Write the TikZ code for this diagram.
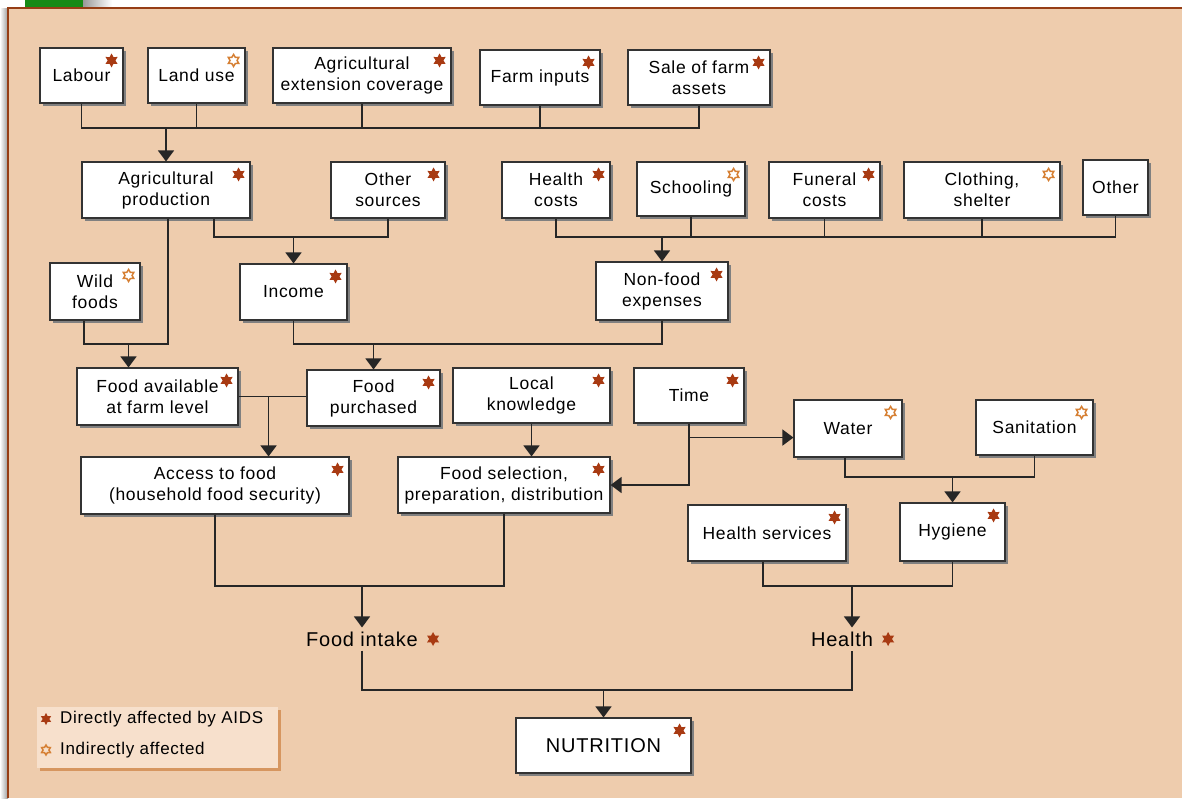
\documentclass[tikz,border=0pt]{standalone}
\usepackage{fontspec}
\setmainfont{Liberation Sans}[LetterSpace=4]
\usepackage{tikz}
\usetikzlibrary{arrows.meta}
\usetikzlibrary{shapes.geometric}
\usetikzlibrary{shadows}

\definecolor{panel}{RGB}{238,204,173}
\definecolor{paneledge}{RGB}{150,62,22}
\definecolor{stardark}{RGB}{168,58,18}
\definecolor{starlight}{RGB}{214,128,52}
\definecolor{legendfill}{RGB}{247,224,204}
\definecolor{legendshadow}{RGB}{214,150,96}
\definecolor{tabgreen}{RGB}{22,138,22}

\tikzset{
  box/.style={draw=black!80, line width=1.1pt, fill=white, align=center, inner sep=2pt,
    font=\fontsize{17.5}{21}\selectfont,
    drop shadow={shadow xshift=3pt, shadow yshift=-3pt, fill=black!50, opacity=1}},
  sz/.style 2 args={minimum width=#1pt, minimum height=#2pt},
  dmark/.style={star, star points=6, star point ratio=1.8, minimum size=14pt, inner sep=0pt, fill=stardark},
  imark/.style={star, star points=6, star point ratio=1.7, minimum size=12pt, inner sep=0pt, draw=starlight, line width=1.5pt},
  link/.style={line width=1.4pt, draw=black!85},
  arr/.style={-{Triangle[width=16pt,length=11pt]}},
  plain/.style={inner sep=4pt, font=\fontsize{20}{24}\selectfont},
}

\begin{document}
\begin{tikzpicture}[x=1pt, y=-1pt]
    \useasboundingbox (0,0) rectangle (1182,798);
    % page and panel
    \fill [white] (0,0) rectangle (1182,798);
    \shade [left color=white, right color=black!40] (0,8) rectangle (8,798);
    \fill [tabgreen] (25,0) rectangle (83,7);
    \shade [left color=black!40, right color=white] (83,0) rectangle (112,7);
    \fill [panel] (8,8) rectangle (1182,798);
    \draw [paneledge, line width=2pt] (8,798) -- (8,8) -- (1182,8);

    % top row
    \node [box, sz={83}{55}] (labour) at (81.5,75.5) {Labour};
    \node [box, sz={97}{55}] (landuse) at (196.5,75.5) {Land use};
    \node [box, sz={178}{55}] (extension) at (362,75.5) {Agricultural\\extension coverage};
    \node [box, sz={120}{55}] (inputs) at (540,77.5) {Farm inputs};
    \node [box, sz={142}{55}] (assets) at (699,77.5) {Sale of farm\\assets};

    % second row
    \node [box, sz={168}{56}] (agprod) at (166,190) {Agricultural\\production};
    \node [box, sz={114}{56}] (othersrc) at (388,190) {Other\\sources};
    \node [box, sz={108}{56}] (healthcost) at (556,190) {Health\\costs};
    \node [box, sz={108}{54}] (schooling) at (691,189) {Schooling};
    \node [box, sz={111}{56}] (funeral) at (824.5,190) {Funeral\\costs};
    \node [box, sz={156}{56}] (clothing) at (982,190) {Clothing,\\shelter};
    \node [box, sz={65}{55}] (other) at (1115.5,187.5) {Other};

    % third row
    \node [box, sz={90}{57}] (wild) at (95,291.5) {Wild\\foods};
    \node [box, sz={107}{56}] (income) at (293.5,292) {Income};
    \node [box, sz={132}{58}] (nonfood) at (662,291) {Non-food\\expenses};

    % fourth row
    \node [box, sz={161}{57}] (foodavail) at (157.5,396.5) {Food available\\at farm level};
    \node [box, sz={133}{56}] (purchased) at (373.5,398) {Food\\purchased};
    \node [box, sz={157}{55}] (knowledge) at (531.5,395.5) {Local\\knowledge};
    \node [box, sz={110}{55}] (time) at (689,395.5) {Time};
    \node [box, sz={108}{57}] (water) at (848,428.5) {Water};
    \node [box, sz={117}{55}] (sanitation) at (1034.5,427.5) {Sanitation};

    % fifth row
    \node [box, sz={268}{57}] (access) at (215,485.5) {Access to food\\(household food security)};
    \node [box, sz={212}{56}] (selection) at (504,485) {Food selection,\\preparation, distribution};
    \node [box, sz={158}{56}] (hservices) at (767,533) {Health services};
    \node [box, sz={105}{58}] (hygiene) at (952.5,532) {Hygiene};

    % outcomes
    \node [plain] (intake) at (362,639) {Food intake};
    \node [plain] (health) at (842,639) {Health};
    \node [box, sz={175}{55}, font=\fontsize{20}{24}\selectfont] (nutrition) at (603.5,745.5) {NUTRITION};

    % marks
    \foreach \n in {labour,extension,inputs,assets,agprod,othersrc,healthcost,funeral,
        income,nonfood,foodavail,purchased,knowledge,time,access,selection,hservices,hygiene,nutrition}
        \node [dmark] (\n-mark) at ([xshift=-12pt,yshift=-13pt]\n.north east) {};
    \foreach \n in {landuse,schooling,clothing,wild,water,sanitation}
        \node [imark] (\n-mark) at ([xshift=-12pt,yshift=-13pt]\n.north east) {};
    \node [dmark] (intake-mark) at ([xshift=11pt]intake.east) {};
    \node [dmark] (health-mark) at ([xshift=11pt]health.east) {};

    % connectors
    \coordinate (bus1) at (0,128);
    \coordinate (bus2) at (0,237);
    \coordinate (bus3) at (0,344);
    \coordinate (bus4) at (0,477);
    \coordinate (bus5) at (0,586);
    \coordinate (bus7) at (0,690);
    \coordinate (hx) at ([xshift=10pt]health.north);

    \draw [link] (labour.south) |- (assets.south |- bus1) -- (assets.south);
    \foreach \n in {landuse,extension,inputs}
        \draw [link] (\n.south) -- (\n.south |- bus1);
    \draw [link, arr] (agprod.north |- bus1) -- (agprod.north);

    \draw [link] ([xshift=48pt]agprod.south) |- (othersrc.south |- bus2) -- (othersrc.south);
    \draw [link, arr] (income.north |- bus2) -- (income.north);
    \draw [link] (healthcost.south) |- (other.south |- bus2) -- (other.south);
    \foreach \n in {schooling,funeral,clothing}
        \draw [link] (\n.south) -- (\n.south |- bus2);
    \draw [link, arr] (nonfood.north |- bus2) -- (nonfood.north);

    \draw [link] ([xshift=2pt]agprod.south) |- ([xshift=-11pt]wild.south |- bus3) -- ([xshift=-11pt]wild.south);
    \draw [link, arr] ([xshift=-29pt]foodavail.north |- bus3) -- ([xshift=-29pt]foodavail.north);
    \draw [link] (income.south) |- (nonfood.south |- bus3) -- (nonfood.south);
    \draw [link, arr] (purchased.north |- bus3) -- (purchased.north);

    \draw [link] (foodavail.east) -- (foodavail.east -| purchased.west);
    \draw [link, arr] ([xshift=30pt]foodavail.east) -- ([xshift=30pt]foodavail.east |- access.north);
    \draw [link, arr] (knowledge.south) -- (knowledge.south |- selection.north);

    \draw [link] (time.south) -- ++(0,14) coordinate (tj);
    \draw [link, arr] (tj) -- (tj -| water.west);
    \draw [link, arr] (tj) |- (selection.east);

    \draw [link] ([xshift=-3pt]water.south) |- (sanitation.south |- bus4) -- (sanitation.south);
    \draw [link, arr] (hygiene.north |- bus4) -- (hygiene.north);

    \draw [link] (access.south) |- (selection.south |- bus5) -- (selection.south);
    \draw [link, arr] (intake.north |- bus5) -- (intake.north);
    \draw [link] ([xshift=-4pt]hservices.south) |- (hygiene.south |- bus5) -- (hygiene.south);
    \draw [link, arr] (hx |- bus5) -- (hx);

    \draw [link] (intake.south) |- (hx |- bus7) -- (hx |- health.south);
    \draw [link, arr] (nutrition.north |- bus7) -- (nutrition.north);

    % legend
    \node [fill=legendfill, minimum width=241pt, minimum height=61pt, inner sep=0pt,
        drop shadow={shadow xshift=3pt, shadow yshift=-3pt, fill=legendshadow, opacity=1}] (legend) at (157.5,737.5) {};
    \node [dmark, minimum size=12pt] (legend-d) at (46,719) {};
    \node [imark, minimum size=10pt] (legend-i) at (46,750) {};
    \node [anchor=west, inner sep=0pt, font=\fontsize{17}{20}\selectfont] (legend-dtext) at (60,719) {Directly affected by AIDS};
    \node [anchor=west, inner sep=0pt, font=\fontsize{17}{20}\selectfont] (legend-itext) at (60,750) {Indirectly affected};
\end{tikzpicture}
\end{document}
